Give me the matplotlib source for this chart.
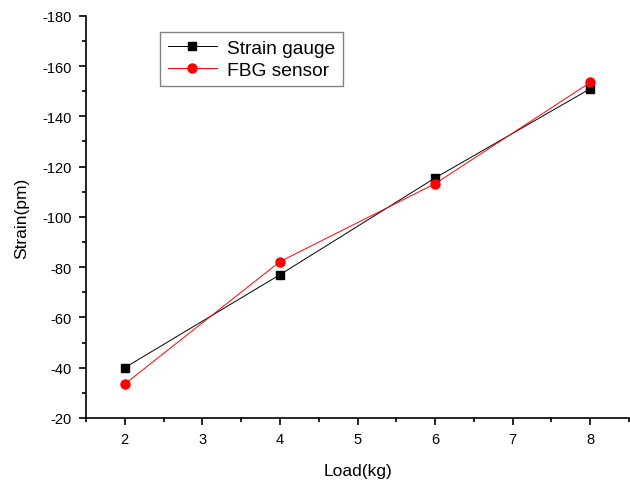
import matplotlib
matplotlib.use('Agg')
import matplotlib.pyplot as plt
from matplotlib.ticker import MultipleLocator

plt.rcParams['font.family'] = ['Liberation Sans', 'DejaVu Sans']
plt.rcParams['axes.unicode_minus'] = False

load = [2, 4, 6, 8]
gauge = [-40, -77, -115.5, -151]
fbg = [-33.5, -82.2, -113.2, -153.5]

fig = plt.figure(figsize=(6.3, 4.81), dpi=100)
ax = fig.add_axes([0.1365, 0.129, 0.862, 0.836])

ax.plot(load, gauge, color='black', lw=0.7, marker='s', ms=6, label='Strain gauge')
ax.plot(load, fbg, color='red', lw=0.7, marker='o', ms=6.5, label='FBG sensor')

ax.set_xlim(1.5, 8.5)
ax.set_ylim(-20, -180)
ax.xaxis.set_major_locator(MultipleLocator(1))
ax.xaxis.set_minor_locator(MultipleLocator(0.5))
ax.yaxis.set_major_locator(MultipleLocator(20))
ax.yaxis.set_minor_locator(MultipleLocator(10))
ax.tick_params(which='major', direction='out', length=5, width=1.2, labelsize=10.5, pad=5)
ax.tick_params(which='minor', direction='out', length=3, width=1.2)
for s in ['top', 'right']:
    ax.spines[s].set_visible(False)
for s in ['left', 'bottom']:
    ax.spines[s].set_linewidth(1.2)

ax.set_xlabel('Load(kg)', fontsize=12.5, labelpad=12)
ax.set_ylabel('Strain(pm)', fontsize=12.5, labelpad=10)

leg = ax.legend(loc='upper left', bbox_to_anchor=(0.136, 0.96), fontsize=13.8,
                fancybox=False, edgecolor='gray', framealpha=1,
                handlelength=2.6, handletextpad=0.5, borderpad=0.4,
                labelspacing=0.22, borderaxespad=0)
leg.get_frame().set_linewidth(1)

fig.savefig('out.png', dpi=100)
